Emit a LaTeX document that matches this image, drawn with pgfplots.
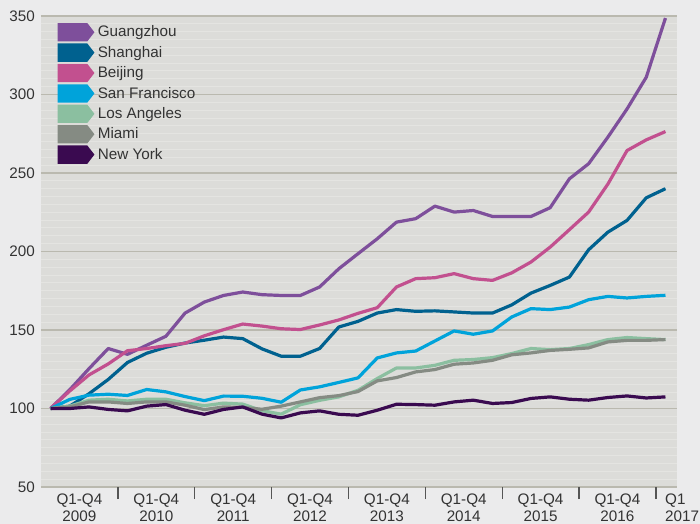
\documentclass[border=0pt]{standalone}
\usepackage{fontspec}
\setmainfont{Liberation Sans}
\usepackage{pgfplots}
\usepackage{pgfplotstable}
\pgfplotsset{compat=1.18}
\definecolor{pagebg}{HTML}{EBEBEC}
\definecolor{plotbg}{HTML}{DCDCD9}
\definecolor{mingrid}{HTML}{E4E4E1}
\definecolor{majgrid}{HTML}{BAB9AF}
\definecolor{textgray}{HTML}{333333}
\definecolor{sepgray}{HTML}{555555}
\definecolor{cG}{HTML}{7E4F9B}
\definecolor{cS}{HTML}{00618F}
\definecolor{cB}{HTML}{C2508F}
\definecolor{cSF}{HTML}{00A3DA}
\definecolor{cLA}{HTML}{8BBFA0}
\definecolor{cM}{HTML}{858B83}
\definecolor{cNY}{HTML}{3A0A50}

\pgfplotstableread{
q  G      S      B      SF     LA     M      NY
0  100    100    100    100    100    100    100
1  112    101.5  111.2  105.8  101.5  101    100
2  125.4  109.4  121.4  108.5  105.3  104.2  101
3  138.2  118.5  128.4  109.1  105.9  104.2  99.4
4  134.5  129.3  136.8  108.3  104.8  103.2  98.5
5  140.3  135.2  138.2  112.1  105.9  104.2  101.5
6  146    139    140    110.6  105.9  104.2  102.5
7  160.8  141.7  141.5  107.6  103.6  102.1  98.9
8  167.8  143.5  146.3  105    101.8  99.3   96.3
9  172    145.5  150.2  107.9  103.4  101    99.4
10 174.2  144.5  153.8  107.8  102.8  100.7  101
11 172.5  138    152.5  106.5  98.6   99.5   96.4
12 172    133.3  150.8  104    96.4   101.5  94
13 172    133.3  150.3  111.8  102.4  104.2  97.2
14 177.4  138.2  153.2  113.8  105.2  106.9  98.5
15 189    151.9  156.4  116.6  107.4  108.2  96.3
16 198.6  155.5  160.6  119.5  111.6  110.8  95.7
17 208.1  160.8  164.2  132.2  119.1  117.6  98.9
18 218.7  163    177.4  135.4  125.8  119.7  102.7
19 220.9  161.9  182.7  136.6  125.8  123.3  102.5
20 228.9  162.2  183.3  143    127.5  124.8  102.1
21 225.1  161.5  185.9  149.4  130.7  128.2  104.2
22 226.1  160.8  182.7  147.3  131.2  129    105.3
23 222.3  160.8  181.6  149.4  132.4  130.7  103.2
24 222.3  166    186.4  158.3  135    134.2  103.8
25 222.3  173.5  193.3  163.6  138.2  135.4  106.4
26 227.9  178.4  202.8  163    137.5  137    107.4
27 246.3  183.7  213.9  164.6  138.2  137.7  105.9
28 255.9  201.1  225.1  169.3  140.7  138.6  105.3
29 272.8  212.3  242.9  171.4  143.9  142.4  107
30 290.8  219.8  264.3  170.4  145.2  143.4  108
31 311    234.2  271.1  171.4  144.5  143.4  106.7
32 348.7  240    276.4  172.1  143.9  143.9  107.4
}\datatable

\begin{document}
\begin{tikzpicture}
\path[fill=pagebg, use as bounding box] (-41bp,-37bp) rectangle (659bp,487bp);
\begin{axis}[
  at={(0,0)}, anchor=south west,
  scale only axis, width=636bp, height=471bp,
  xmin=-0.5, xmax=32.6, ymin=50, ymax=350,
  axis line style={draw=none},
  axis background/.style={fill=plotbg},
  ytick={50,100,...,350},
  ymajorgrids,
  major grid style={color=majgrid, line width=1.1bp},
  extra y ticks={55,60,65,70,75,80,85,90,95,105,110,115,120,125,130,135,140,145,155,160,165,170,175,180,185,190,195,205,210,215,220,225,230,235,240,245,255,260,265,270,275,280,285,290,295,305,310,315,320,325,330,335,340,345},
  extra y tick labels={},
  extra y tick style={grid=major, major grid style={color=mingrid, line width=1bp}},
  xtick={1.5,5.5,9.5,13.5,17.5,21.5,25.5,29.5},
  xticklabels={{Q1-Q4\\2009},{Q1-Q4\\2010},{Q1-Q4\\2011},{Q1-Q4\\2012},{Q1-Q4\\2013},{Q1-Q4\\2014},{Q1-Q4\\2015},{Q1-Q4\\2016}},
  xticklabel style={align=center},
  extra x ticks={32},
  extra x tick labels={{Q1\\2017}},
  extra x tick style={xticklabel style={anchor=north west, align=left, xshift=-0.5bp}},
  minor xtick={3.5,7.5,11.5,15.5,19.5,23.5,27.5,31.5},
  major tick length=0pt, minor tick length=12bp,
  tick align=outside, xtick pos=left, ytick pos=left,
  every minor tick/.append style={color=sepgray, line width=1.3bp},
  ytick style={draw=none},
  ticklabel style={font=\fontsize{15.3}{16.5}\selectfont, text=textgray, inner sep=0pt},
  xticklabel shift=7bp, yticklabel shift=6bp,
  /pgf/number format/assume math mode=true,
  every axis plot/.append style={line width=3.2bp, line join=round, no markers},
  legend style={at={(axis description cs:0.0263,0.985)}, anchor=north west, draw=none, fill=none, inner sep=0pt, outer sep=0pt, row sep=2.1bp, column sep=3.4bp, font=\fontsize{15.3}{16}\selectfont, text=textgray, nodes={inner sep=0pt}},
  legend cell align=left,
  legend image code/.code={\fill[#1,draw=none] (0bp,-9.15bp) -- (29.6bp,-9.15bp) -- (36.7bp,0bp) -- (29.6bp,9.15bp) -- (0bp,9.15bp) -- cycle;},
]
\addplot[color=cG] table[x=q,y=G]{\datatable};
\addlegendentry{Guangzhou}
\addplot[color=cS] table[x=q,y=S]{\datatable};
\addlegendentry{Shanghai}
\addplot[color=cB] table[x=q,y=B]{\datatable};
\addlegendentry{Beijing}
\addplot[color=cSF] table[x=q,y=SF]{\datatable};
\addlegendentry{San Francisco}
\addplot[color=cLA] table[x=q,y=LA]{\datatable};
\addlegendentry{Los Angeles}
\addplot[color=cM] table[x=q,y=M]{\datatable};
\addlegendentry{Miami}
\addplot[color=cNY] table[x=q,y=NY]{\datatable};
\addlegendentry{New York}
\end{axis}
\end{tikzpicture}
\end{document}
